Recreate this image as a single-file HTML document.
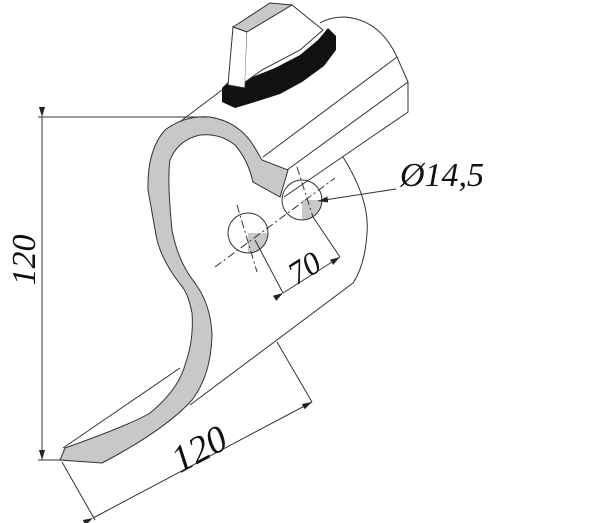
<!DOCTYPE html>
<html><head><style>html,body{margin:0;padding:0;background:#fff}svg{display:block}text{font-family:"Liberation Serif","Times New Roman",serif;font-style:italic}</style></head>
<body>
<svg width="600" height="523" viewBox="0 0 600 523" xmlns="http://www.w3.org/2000/svg">
<defs>
<marker id="a" markerWidth="10" markerHeight="6" refX="10" refY="3" orient="auto" markerUnits="userSpaceOnUse"><path d="M0,0 L10,3 L0,6z" fill="#222"/></marker>
</defs>
<g fill="none" stroke="#333" stroke-width="1">
<path d="M343,157 Q370,200 367,233 Q365,265 353,283 L190,405"/>
<path d="M263,157 L397,57"/>
<path d="M287,170 L408,82"/>
<path d="M284,197 L408,112 L408,82 L397,57 Q380,20 345,17 Q330,17 320,23"/>
<path d="M173,127 L222,90"/>
</g>
<path d="M222,88 L228,82 L250,78 L275,68 L300,55 L318,40 L328,28 L336,36 L336,50 L324,66 L302,82 L280,94 L255,102 L235,108 L222,102z" fill="#111"/>
<path d="M233,27 L270,3 L292,5 L247,32z" fill="#c8c8c8" stroke="#333"/>
<path d="M233,27 L247,32 L245,88 L228,85z" fill="#fff" stroke="#333"/>
<path d="M247,32 L292,5 L323,30 L300,50 L262,70 L245,82" fill="#fff" stroke="#333"/>
<path d="M60,460 L65,448 Q130,425 150,413 Q178,390 185,365 Q194,340 192,313 Q188,292 180,284 Q160,258 156,235 L148,190 Q147,150 165,130 Q185,115 210,117 Q240,122 255,148 L262,160 L288,170 L280,197 L253,182 Q248,160 235,145 Q220,133 200,135 Q178,140 170,160 Q167,180 172,230 Q178,262 195,283 Q211,305 212,335 Q211,375 192,400 Q165,430 102,463 Z" fill="#c8c8c8" stroke="#333"/>
<path d="M63,448 L180,368" stroke="#333" fill="none"/>
<g stroke="#333" stroke-width="1">
<path d="M248,233 L268,233 A20,20 0 0 1 248,253z" fill="#c8c8c8" stroke="none"/>
<circle cx="248" cy="233" r="20" fill="none"/>
<path d="M302,200 L322,200 A20,20 0 0 1 302,220z" fill="#c8c8c8" stroke="none"/>
<circle cx="302" cy="200" r="20" fill="none"/>
<path d="M215,267 L335,178" stroke-dasharray="8,3,2,3"/>
<path d="M237,205 L257,272" stroke-dasharray="8,3,2,3"/>
<path d="M297,167 L313,217" stroke-dasharray="8,3,2,3"/>
<path d="M255,240 L283,293"/>
<path d="M313,217 L340,257"/>
<path d="M283,293 L340,257" marker-end="url(#a)" marker-start="url(#a)"/>
<path d="M396,189 L318,201" marker-end="url(#a)"/>
<path d="M38,117 L210,117 M38,460 L62,460"/>
<path d="M42,117 L42,460" marker-end="url(#a)" marker-start="url(#a)"/>
<path d="M62,462 L95,520 M277,342 L312,402"/>
<path d="M93,518 L312,402" marker-end="url(#a)" marker-start="url(#a)"/>
</g>
<text x="400" y="186" font-size="34" fill="#111">Ø14,5</text>
<text transform="translate(310,277) rotate(-32)" font-size="32" fill="#111" text-anchor="middle">70</text>
<text transform="translate(35,260) rotate(-90)" font-size="34" fill="#111" text-anchor="middle">120</text>
<text transform="translate(205,460) rotate(-28)" font-size="38" fill="#111" text-anchor="middle">120</text>
</svg>
</body></html>
